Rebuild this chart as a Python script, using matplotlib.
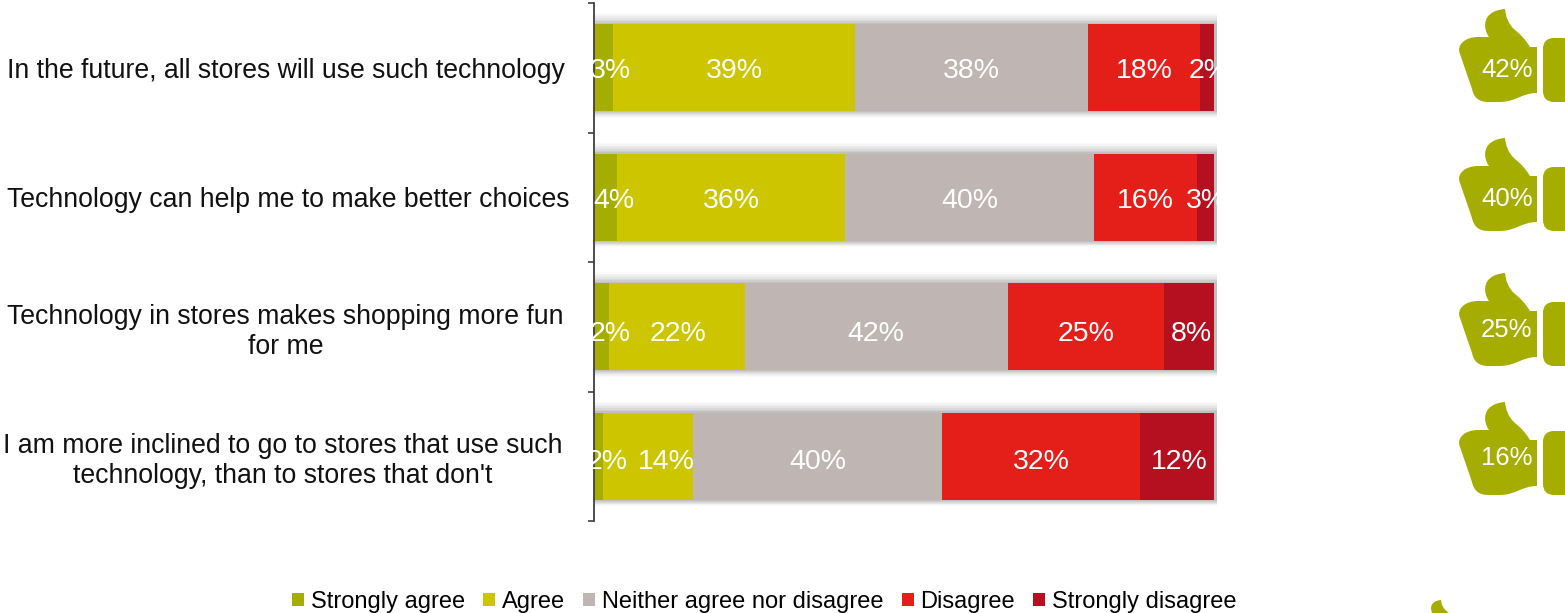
import matplotlib
matplotlib.use('Agg')
import matplotlib.pyplot as plt
from matplotlib.path import Path
from matplotlib.patches import PathPatch, Rectangle, FancyBboxPatch
from matplotlib.transforms import ScaledTranslation

plt.rcParams['font.family'] = ['Liberation Sans', 'DejaVu Sans']

W, H = 1565, 613

# ---------------------------------------------------------------------------
# Data
# ---------------------------------------------------------------------------

categories = [
    'In the future, all stores will use such technology',
    'Technology can help me to make better choices',
    'Technology in stores makes shopping more fun\nfor me',
    "I am more inclined to go to stores that use such\ntechnology, than to stores that don't",
]
series_names = ['Strongly agree', 'Agree', 'Neither agree nor disagree', 'Disagree', 'Strongly disagree']
strongly_agree = [3.1, 3.7, 2.4, 1.5]
agree = [39.0, 36.8, 21.9, 14.5]
neither = [37.6, 40.2, 42.4, 40.2]
disagree = [18.1, 16.5, 25.3, 31.8]
strongly_disagree = [2.2, 2.8, 8.0, 12.0]
shown_labels = [
    ['3%', '39%', '38%', '18%', '2%'],
    ['4%', '36%', '40%', '16%', '3%'],
    ['2%', '22%', '42%', '25%', '8%'],
    ['2%', '14%', '40%', '32%', '12%'],
]
thumb_labels = ['42%', '40%', '25%', '16%']

colors = ['#A5AD00', '#CDC500', '#BFB6B3', '#E41F1A', '#B41020']
olive = '#A5AD00'

values = [strongly_agree, agree, neither, disagree, strongly_disagree]

# labels moved sideways in the original so they don't collide (pixels)
label_shift = [
    [7, 0, 0, 0, 2],
    [8, 0, 0, 0, 1],
    [9, 1, 0, 0, 2],
    [8, 18, 0, 0, 2],
]
label_drop = [3, 4, 7, 6]
cat_shift = [0, 3, 0, -3]


def px_axes(x0, y0, x1, y1):
    # y measured from the top of the picture
    return [x0 / W, 1 - y1 / H, (x1 - x0) / W, (y1 - y0) / H]


fig = plt.figure(figsize=(W / 100, H / 100), dpi=100)
ax = fig.add_axes(px_axes(594, 3, 1214, 521))

ypos = list(range(len(categories)))
bar_h = 0.67

# soft shadow behind each row, heavier along the top edge
shadow_steps = [(0.14, 0.03), (0.12, 0.04), (0.10, 0.05), (0.08, 0.07),
                (0.06, 0.09), (0.04, 0.11), (0.02, 0.13)]
for i in ypos:
    for grow, a in shadow_steps:
        ax.barh(i - grow / 8, 100.5, height=bar_h + grow, left=0, color='#707070', alpha=a,
                linewidth=0, zorder=1, clip_on=False)

left = [0.0] * len(categories)
for name, vals, col, in zip(series_names, values, colors):
    ax.barh(ypos, vals, left=left, height=bar_h, color=col, label=name, linewidth=0, zorder=2)
    left = [l + v for l, v in zip(left, vals)]

# value labels, cut off at the plot edges like the original
clip = Rectangle((-0.002, 0), 1.008, 1, transform=ax.transAxes)
for i in ypos:
    start = 0.0
    for j, vals in enumerate(values):
        t = ax.annotate(shown_labels[i][j], (start + vals[i] / 2, i),
                        xytext=(label_shift[i][j], -label_drop[i]), textcoords='offset pixels',
                        color='white', fontsize=20.5, ha='center', va='center', zorder=3,
                        annotation_clip=False, clip_on=True)
        t.set_clip_path(clip)
        start += vals[i]

ax.set_xlim(0, 100)
ax.set_ylim(len(categories) - 0.5, -0.5)
ax.xaxis.set_visible(False)
for s in ['top', 'right', 'bottom']:
    ax.spines[s].set_visible(False)
ax.spines['left'].set_color('#404040')
ax.spines['left'].set_linewidth(1.3)
ax.set_yticks(ypos)
ax.set_yticklabels(categories, ha='center', multialignment='center', fontsize=19.2, color='#111111',
                   linespacing=1.2)
ax.tick_params(axis='y', which='major', length=0, pad=222)
for lab, dx in zip(ax.get_yticklabels(), cat_shift):
    lab.set_transform(lab.get_transform() + ScaledTranslation(dx / 100, 0, fig.dpi_scale_trans))
ax.set_yticks([-0.5, 0.5, 1.5, 2.5, 3.5], minor=True)
ax.tick_params(axis='y', which='minor', length=4.5, width=1.2, color='#404040')

fig.legend(*ax.get_legend_handles_labels(), loc='center', bbox_to_anchor=(764.5 / W, 1 - 602 / H), ncol=5,
           frameon=False, fontsize=17, handlelength=0.5, handleheight=0.5, handletextpad=0.3,
           columnspacing=0.76, borderpad=0, labelspacing=0)

# ---------------------------------------------------------------------------
# Thumbs-up icons, drawn on a full-figure overlay in pixel units
# ---------------------------------------------------------------------------

over = fig.add_axes([0, 0, 1, 1])
over.set_xlim(0, W)
over.set_ylim(H, 0)
over.axis('off')

C = Path.CURVE4
L = Path.LINETO
hand = [
    (Path.MOVETO, (0, 0)),
    (C, (1, 8)), (C, (3, 15)), (C, (10, 21)),
    (C, (16, 26)), (C, (20, 30)), (C, (25, 38)),
    (L, (32, 38)),
    (L, (32, 84)),
    (C, (16, 84)), (C, (12, 93)), (C, (-6, 93)),
    (L, (-16, 93)),
    (C, (-26, 93)), (C, (-31, 89)), (C, (-33, 80)),
    (L, (-45, 45)),
    (C, (-49, 36)), (C, (-40, 28)), (C, (-27, 28)),
    (L, (-16, 28)),
    (C, (-22, 20)), (C, (-24, 2)), (C, (0, 0)),
]


def thumb(tx, ty, scale=1.0):
    pts = [(tx + p[0] * scale, ty + p[1] * scale) for _, p in hand]
    codes = [c for c, _ in hand]
    over.add_patch(PathPatch(Path(pts, codes), facecolor=olive, edgecolor='none'))
    over.add_patch(FancyBboxPatch((tx + 38 * scale, ty + 29 * scale), 60 * scale, 64 * scale,
                                  boxstyle='round,pad=0,rounding_size=%.1f' % (11 * scale),
                                  facecolor=olive, edgecolor='none'))


thumb_tops = [9, 138, 273, 402]
thumb_text_y = [70, 199, 330, 458]
for top, ty, lab in zip(thumb_tops, thumb_text_y, thumb_labels):
    thumb(1505, top)
    over.text(1507, ty, lab, color='white', fontsize=18.5, ha='center', va='center')
thumb(1441, 600, 0.5)

fig.savefig('out.png', dpi=100)
